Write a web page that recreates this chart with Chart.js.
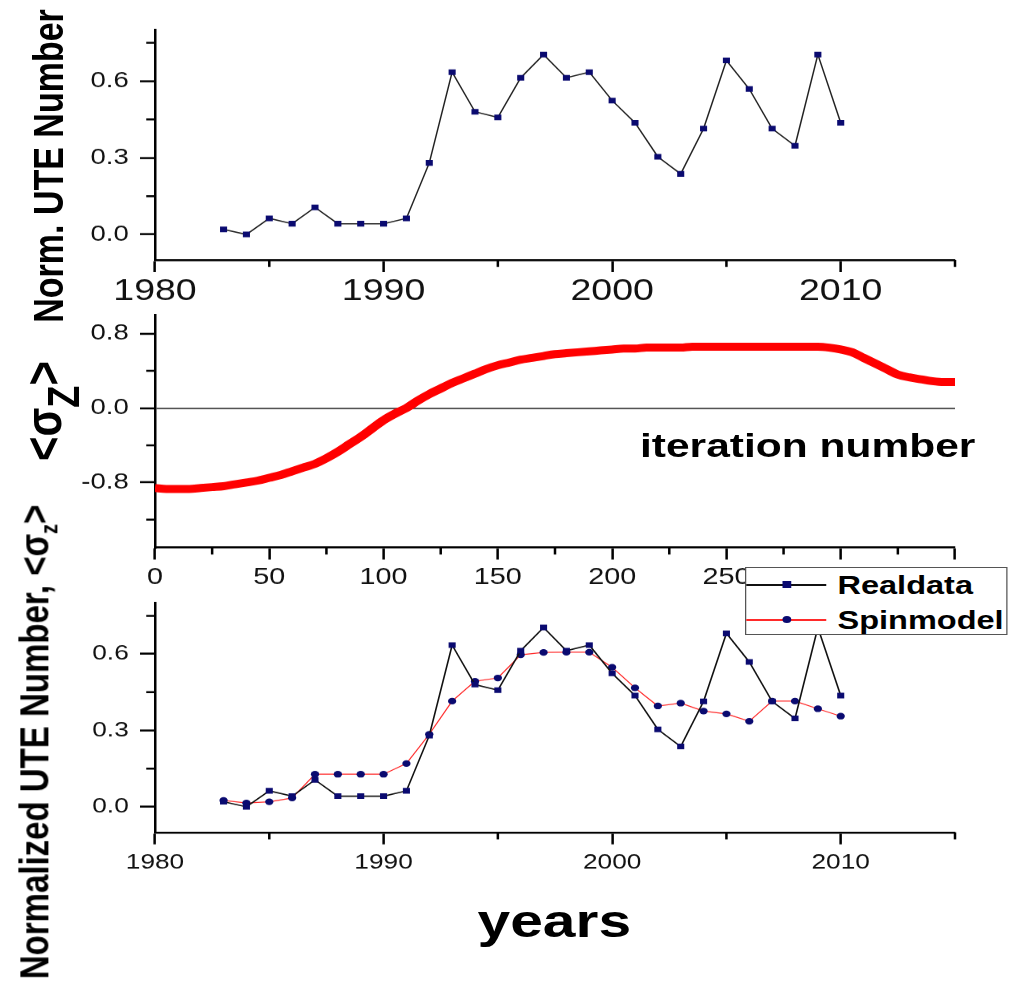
<!DOCTYPE html>
<html>
<head>
<meta charset="utf-8">
<script src="https://cdn.jsdelivr.net/npm/chart.js@4.4.1/dist/chart.umd.min.js"></script>
<style>
  html, body { margin: 0; padding: 0; background: #fff; }
  body { width: 1010px; height: 992px; overflow: hidden; position: relative; font-family: 'Liberation Sans', Arial, sans-serif; }
  /* the original figure is stretched sideways, so is this stage */
  #stage { position: absolute; left: 0; top: 0; width: 808px; height: 992px; transform: scaleX(1.25); transform-origin: 0 0; }
  #stage canvas { position: absolute; left: 0; }
  .label { position: absolute; font-weight: bold; color: #000; white-space: nowrap; line-height: 1; }
  .ylabel { transform: translate(-50%, -50%) rotate(-90deg); }
  .subz { position: relative; top: 0.38em; font-size: 0.86em; }
  sub { font-size: 0.6em; }
  #legend { position: absolute; left: 596px; top: 567px; width: 208px; height: 66px; border: 1.5px solid #555; background: #fff; }
  .legend-item { position: absolute; left: 0; width: 100%; height: 32px; font-size: 26px; font-weight: bold; line-height: 1; }
  .legend-line { position: absolute; left: 0; top: 16px; width: 64px; height: 1.5px; }
  .color-box { position: absolute; left: 29px; top: 13px; width: 7px; height: 7px; background: #0a0a70; }
  .legend-text { position: absolute; left: 73px; top: 4px; }
</style>
</head>
<body>
<div id="stage">
  <canvas id="uteChart" width="808" height="320" style="top:0px"></canvas>
  <canvas id="sigmaChart" width="808" height="315" style="top:285px"></canvas>
  <canvas id="compareChart" width="808" height="322" style="top:573px"></canvas>

  <div class="label ylabel" style="left:38px; top:166px; font-size:34px;">Norm. UTE Number</div>
  <div class="label ylabel" style="left:35px; top:411px; font-size:42px;">&lt;σ<span class="subz">Z</span>&gt;</div>
  <div class="label ylabel" style="left:30px; top:742px; font-size:33px;">Normalized UTE Number, &lt;σ<sub>z</sub>&gt;</div>
  <div class="label" style="left:512px; top:428px; font-size:34px;">iteration number</div>
  <div class="label" style="left:382px; top:897px; font-size:47px;">years</div>

  <div id="legend"></div>
</div>

<script>
const years = [1983, 1984, 1985, 1986, 1987, 1988, 1989, 1990, 1991, 1992, 1993, 1994, 1995, 1996,
               1997, 1998, 1999, 2000, 2001, 2002, 2003, 2004, 2005, 2006, 2007, 2008, 2009, 2010];
const realData = [0.02, 0.00, 0.063, 0.042, 0.106, 0.042, 0.042, 0.042, 0.063, 0.28, 0.635, 0.48, 0.458, 0.613,
                  0.704, 0.613, 0.635, 0.524, 0.437, 0.304, 0.237, 0.414, 0.681, 0.569, 0.414, 0.347, 0.704, 0.437];
const spinModel = [0.025, 0.015, 0.02, 0.035, 0.128, 0.128, 0.128, 0.128, 0.17, 0.285, 0.415, 0.493, 0.506, 0.597,
                   0.606, 0.607, 0.607, 0.548, 0.467, 0.396, 0.407, 0.376, 0.365, 0.336, 0.415, 0.415, 0.385, 0.356];

const iterations = [0, 5, 10, 15, 20, 25, 30, 35, 40, 45, 50, 55, 60, 65, 70, 75, 80, 85, 90, 95,
                    100, 105, 110, 115, 120, 125, 130, 135, 140, 145, 150, 155, 160, 165, 170, 175, 180, 185, 190, 195,
                    200, 205, 210, 215, 220, 225, 230, 235, 240, 245, 250, 255, 260, 265, 270, 275, 280, 285, 290, 295,
                    300, 305, 310, 315, 320, 325, 330, 335, 340, 345, 350];
const sigmaZ = [-0.86, -0.87, -0.87, -0.87, -0.86, -0.85, -0.84, -0.82, -0.80, -0.78, -0.75, -0.72, -0.68, -0.64, -0.60, -0.54, -0.47, -0.39, -0.31, -0.22,
                -0.13, -0.06, 0.00, 0.08, 0.15, 0.21, 0.27, 0.32, 0.37, 0.42, 0.46, 0.49, 0.52, 0.54, 0.56, 0.58, 0.59, 0.60, 0.61, 0.62,
                0.63, 0.64, 0.64, 0.65, 0.65, 0.65, 0.65, 0.66, 0.66, 0.66, 0.66, 0.66, 0.66, 0.66, 0.66, 0.66, 0.66, 0.66, 0.66, 0.65,
                0.63, 0.60, 0.54, 0.48, 0.42, 0.36, 0.33, 0.31, 0.29, 0.28, 0.28];

// labelled ticks and the short ones between them
const yearMajor = [1980, 1990, 2000, 2010];
const yearMinor = [1985, 1995, 2005, 2015];
const uteMajor = [0, 0.3, 0.6];
const uteMinor = [0.15, 0.45, 0.75];
const iterMajor = [0, 50, 100, 150, 200, 250, 300, 350];
const iterMinor = [25, 75, 125, 175, 225, 275, 325];
const sigmaMajor = [-0.8, 0, 0.8];
const sigmaMinor = [-1.2, -0.4, 0.4];

const NAVY = '#0a0a70';

Chart.defaults.font.family = "'Liberation Sans', Arial, sans-serif";
Chart.defaults.color = '#111';
Chart.defaults.animation = false;

function minorTicks(xVals, yVals) {
    return {
        id: 'minorTicks',
        afterDraw(chart) {
            const ctx = chart.ctx;
            const xs = chart.scales.x, ys = chart.scales.y;
            ctx.save();
            ctx.strokeStyle = '#000';
            ctx.lineWidth = 2;
            ctx.beginPath();
            xVals.forEach(v => {
                const px = xs.getPixelForValue(v);
                ctx.moveTo(px, xs.top);
                ctx.lineTo(px, xs.top + 7);
            });
            yVals.forEach(v => {
                const py = ys.getPixelForValue(v);
                ctx.moveTo(ys.right, py);
                ctx.lineTo(ys.right - 7, py);
            });
            ctx.stroke();
            ctx.restore();
        }
    };
}

function makeAxis(pos, min, max, major, fmt, fontSize, pad, size) {
    return {
        type: 'linear',
        position: pos,
        min: min,
        max: max,
        afterBuildTicks: scale => { scale.ticks = major.map(v => ({ value: v })); },
        afterFit: scale => {
            if (pos === 'left') scale.width = size;
            else scale.height = size;
        },
        grid: { drawOnChartArea: false, tickLength: 12, tickWidth: 2, tickColor: '#000' },
        border: { color: '#000', width: 2 },
        ticks: { autoSkip: false, maxRotation: 0, padding: pad, font: { size: fontSize }, callback: fmt }
    };
}

const yearFmt = v => String(v);
const oneDec = v => v.toFixed(1);

// padTop has to stay above what the y labels ask for, or the plot gets pushed down
function createPanel(canvasId, datasets, xAxis, yAxis, padTop, xMinor, yMinor) {
    const ctx = document.getElementById(canvasId).getContext('2d');
    return new Chart(ctx, {
        type: 'line',
        data: { datasets: datasets },
        options: {
            responsive: false,
            devicePixelRatio: 1.25,
            layout: { padding: { top: padTop, right: 44, left: 0, bottom: 0 } },
            scales: { x: xAxis, y: yAxis },
            plugins: { legend: { display: false }, tooltip: { enabled: false } }
        },
        plugins: [minorTicks(xMinor, yMinor)]
    });
}

// top: real data only
createPanel('uteChart', [{
        data: years.map((x, i) => ({ x: x, y: realData[i] })),
        borderColor: '#222', borderWidth: 1.2,
        pointStyle: 'rect', pointRadius: 4, pointBorderWidth: 0, pointBackgroundColor: NAVY
    }],
    makeAxis('bottom', 1980, 2015, yearMajor, yearFmt, 30, 2, 60),
    makeAxis('left', -0.1, 0.8, uteMajor, oneDec, 22, 9, 124),
    30, yearMinor, uteMinor);

// middle: spin model magnetisation against iteration
const sigmaY = makeAxis('left', -1.5, 1.0, sigmaMajor, oneDec, 22, 9, 124);
sigmaY.grid.drawOnChartArea = true;
sigmaY.grid.lineWidth = 1.5;
sigmaY.grid.color = c => (c.tick && c.tick.value === 0) ? '#555' : 'rgba(0,0,0,0)';
createPanel('sigmaChart', [{
        data: iterations.map((x, i) => ({ x: x, y: sigmaZ[i] })),
        borderColor: '#ff0000', borderWidth: 8,
        cubicInterpolationMode: 'monotone', pointRadius: 0
    }],
    makeAxis('bottom', 0, 350, iterMajor, yearFmt, 23, 4, 53),
    sigmaY,
    30, iterMinor, sigmaMinor);

// bottom: real data against the model
createPanel('compareChart', [{
        data: years.map((x, i) => ({ x: x, y: realData[i] })),
        borderColor: '#111', borderWidth: 1.3,
        pointStyle: 'rect', pointRadius: 4, pointBorderWidth: 0, pointBackgroundColor: NAVY
    }, {
        data: years.map((x, i) => ({ x: x, y: spinModel[i] })),
        borderColor: '#ff2a2a', borderWidth: 1,
        pointStyle: 'circle', pointRadius: 3.3, pointBorderWidth: 0, pointBackgroundColor: NAVY
    }],
    makeAxis('bottom', 1980, 2015, yearMajor, yearFmt, 21, 6, 63),
    makeAxis('left', -0.1, 0.8, uteMajor, oneDec, 21, 9, 124),
    30, yearMinor, uteMinor);

// legend box, drawn by hand so it can sit over the middle panel's labels
const legendItems = [
    { label: 'Realdata', line: '#111', round: false },
    { label: 'Spinmodel', line: '#ff2a2a', round: true }
];
const legendContainer = document.getElementById('legend');
legendItems.forEach((item, i) => {
    const legendItem = document.createElement('div');
    legendItem.className = 'legend-item';
    legendItem.style.top = (i * 35) + 'px';

    const line = document.createElement('div');
    line.className = 'legend-line';
    line.style.background = item.line;

    const colorBox = document.createElement('div');
    colorBox.className = 'color-box';
    if (item.round) colorBox.style.borderRadius = '50%';

    const text = document.createElement('div');
    text.className = 'legend-text';
    text.textContent = item.label;

    legendItem.appendChild(line);
    legendItem.appendChild(colorBox);
    legendItem.appendChild(text);
    legendContainer.appendChild(legendItem);
});
</script>
</body>
</html>
